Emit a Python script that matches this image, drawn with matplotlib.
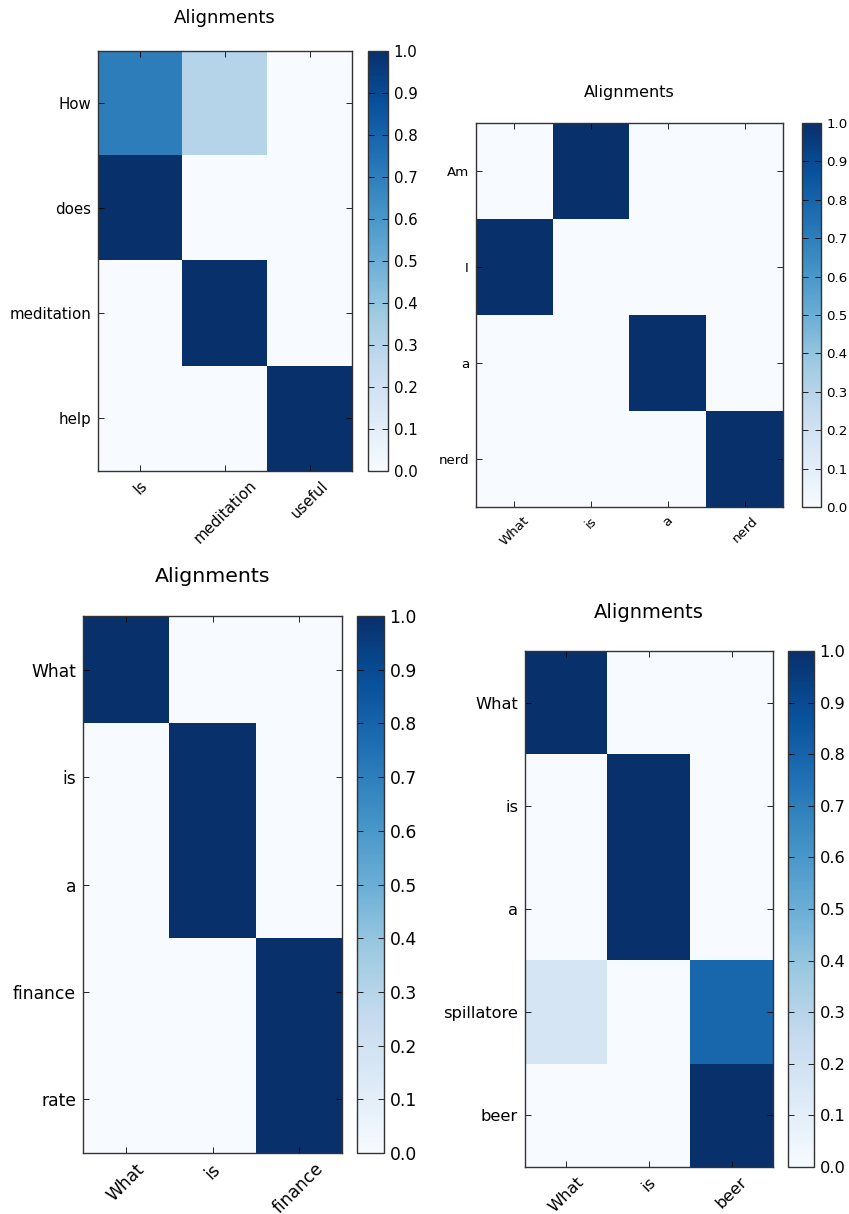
import numpy as np
import matplotlib
matplotlib.use("Agg")
import matplotlib.pyplot as plt

# panel 1
src_1 = ["Is", "meditation", "useful"]
tgt_1 = ["How", "does", "meditation", "help"]
att_1 = [
    [0.7, 0.3, 0.0],
    [1.0, 0.0, 0.0],
    [0.0, 1.0, 0.0],
    [0.0, 0.0, 1.0],
]

# panel 2
src_2 = ["What", "is", "a", "nerd"]
tgt_2 = ["Am", "I", "a", "nerd"]
att_2 = [
    [0.0, 1.0, 0.0, 0.0],
    [1.0, 0.0, 0.0, 0.0],
    [0.0, 0.0, 1.0, 0.0],
    [0.0, 0.0, 0.0, 1.0],
]

# panel 3
src_3 = ["What", "is", "finance"]
tgt_3 = ["What", "is", "a", "finance", "rate"]
att_3 = [
    [1.0, 0.0, 0.0],
    [0.0, 1.0, 0.0],
    [0.0, 1.0, 0.0],
    [0.0, 0.0, 1.0],
    [0.0, 0.0, 1.0],
]

# panel 4
src_4 = ["What", "is", "beer"]
tgt_4 = ["What", "is", "a", "spillatore", "beer"]
att_4 = [
    [1.0, 0.0, 0.0],
    [0.0, 1.0, 0.0],
    [0.0, 1.0, 0.0],
    [0.17, 0.0, 0.79],
    [0.0, 0.0, 1.0],
]

cbar_ticks = np.round(np.arange(0, 1.01, 0.1), 1)

W, H = 849, 1214


def px_rect(x0, y0, x1, y1):
    return [x0 / W, 1 - y1 / H, (x1 - x0) / W, (y1 - y0) / H]


def plot_alignment(fig, att, src, tgt, ax_box, cb_box, title_y, fs):
    ax = fig.add_axes(px_rect(*ax_box))
    im = ax.imshow(np.array(att), cmap="Blues", vmin=0, vmax=1,
                   aspect="auto", interpolation="nearest")
    ax.set_xticks(range(len(src)))
    ax.set_xticklabels(src, rotation=45, fontsize=fs)
    ax.set_yticks(range(len(tgt)))
    ax.set_yticklabels(tgt, fontsize=fs)
    ax.tick_params(direction="in", top=True, right=True, length=4,
                   width=0.6, pad=5)
    for s in ax.spines.values():
        s.set_linewidth(1.0)
        s.set_color("#333333")

    cax = fig.add_axes(px_rect(*cb_box))
    cb = fig.colorbar(im, cax=cax)
    cb.set_ticks(cbar_ticks)
    cb.set_ticklabels([f"{t:.1f}" for t in cbar_ticks])
    cax.tick_params(direction="in", left=True, right=True, length=4,
                    width=0.6, labelsize=fs, pad=4)
    cb.outline.set_linewidth(1.0)
    cb.outline.set_edgecolor("#333333")

    cx = (ax_box[0] + ax_box[2]) / 2 / W
    fig.text(cx, 1 - title_y / H, "Alignments", ha="center", va="center",
             fontsize=fs * 1.2)
    return ax


fig = plt.figure(figsize=(W / 100, H / 100), dpi=100)

plot_alignment(fig, att_1, src_1, tgt_1, (98, 51, 352, 471),
               (368, 51, 388, 471), 18, 10.8)
plot_alignment(fig, att_2, src_2, tgt_2, (476, 123, 783, 507),
               (802, 123, 821, 507), 93, 9.6)
plot_alignment(fig, att_3, src_3, tgt_3, (83, 616, 342, 1153),
               (357, 616, 384, 1153), 577, 12.3)
plot_alignment(fig, att_4, src_4, tgt_4, (525, 651, 773, 1167),
               (788, 651, 814, 1167), 612, 11.7)

fig.savefig("out.png", dpi=100)
